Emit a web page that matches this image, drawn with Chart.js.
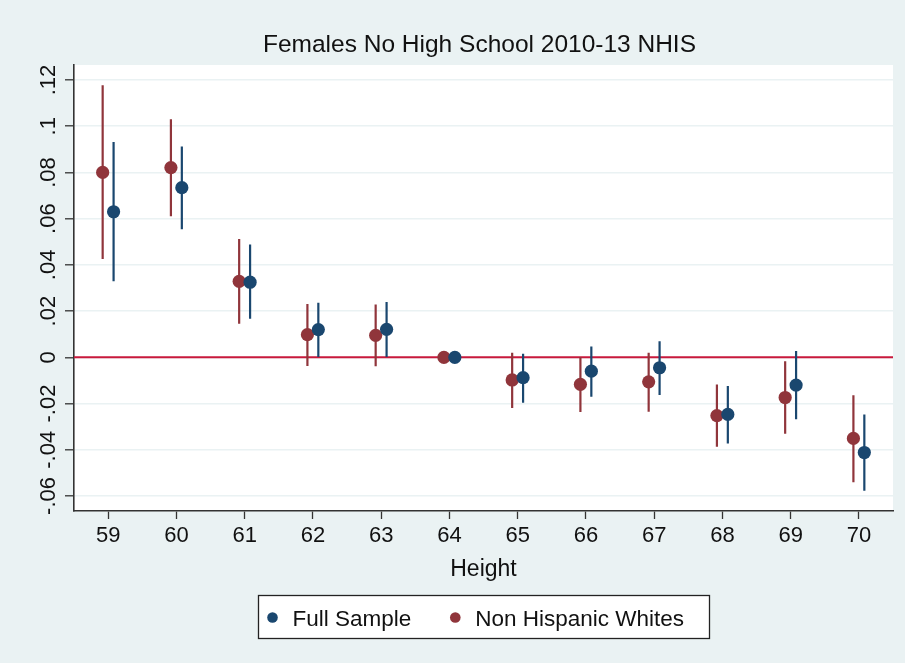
<!DOCTYPE html>
<html>
<head>
<meta charset="utf-8">
<script src="https://cdn.jsdelivr.net/npm/chart.js@4/dist/chart.umd.min.js"></script>
<style>
  html, body { margin: 0; padding: 0; background: #eaf2f3; }
  #wrap { width: 905px; height: 663px; }
</style>
</head>
<body>
<div id="wrap"><canvas id="c" width="905" height="663"></canvas></div>
<script>
// ---- data ----
const chartTitle = "Females No High School 2010-13 NHIS";
const xTitle = "Height";
const heights = [59, 60, 61, 62, 63, 64, 65, 66, 67, 68, 69, 70];
const yTickValues = [-0.06, -0.04, -0.02, 0, 0.02, 0.04, 0.06, 0.08, 0.1, 0.12];
const yTickLabels = ["-.06", "-.04", "-.02", "0", ".02", ".04", ".06", ".08", ".1", ".12"];

const fullLabel = "Full Sample";
const fullEst = [0.0630, 0.0734, 0.0325, 0.0120, 0.0121, 0, -0.0088, -0.0060, -0.0045, -0.0247, -0.0120, -0.0412];
const fullLo  = [0.0329, 0.0554, 0.0167, 0.0001, 0.0001, null, -0.0197, -0.0171, -0.0163, -0.0373, -0.0268, -0.0577];
const fullHi  = [0.0932, 0.0912, 0.0488, 0.0236, 0.0239, null, 0.0016, 0.0047, 0.0070, -0.0124, 0.0027, -0.0247];

const nhwLabel = "Non Hispanic Whites";
const nhwEst = [0.0800, 0.0821, 0.0329, 0.0098, 0.0095, 0, -0.0098, -0.0117, -0.0106, -0.0252, -0.0174, -0.0351];
const nhwLo  = [0.0426, 0.0611, 0.0145, -0.0037, -0.0039, null, -0.0219, -0.0237, -0.0236, -0.0387, -0.0331, -0.0541];
const nhwHi  = [0.1177, 0.1030, 0.0512, 0.0231, 0.0229, null, 0.0020, 0.0001, 0.0020, -0.0118, -0.0017, -0.0164];

const fullOffset = 0.08;
const nhwOffset = -0.08;
const refLineValue = 0;

// ---- styles ----
const NAVY = "#1a476f";
const MAROON = "#90353b";
const REDLINE = "#c8193c";
const BG = "#eaf2f3";
const FONT = "'Liberation Sans', Arial, Helvetica, sans-serif";

function points(est, off) {
  return heights.map((h, i) => ({ x: h + off, y: est[i] }));
}
function ciSegments(lo, hi, off) {
  const out = [];
  heights.forEach((h, i) => {
    if (lo[i] === null || hi[i] === null) return;
    out.push({ x: h + off, y: lo[i] }, { x: h + off, y: hi[i] }, { x: h + off, y: null });
  });
  return out;
}

const bgPlugin = {
  id: "bg",
  beforeDraw(chart) {
    const { ctx, chartArea: a } = chart;
    ctx.save();
    ctx.fillStyle = BG;
    ctx.fillRect(0, 0, chart.width, chart.height);
    ctx.fillStyle = "#ffffff";
    ctx.fillRect(a.left, a.top, a.right - a.left, a.bottom - a.top);
    ctx.restore();
  }
};

const decoPlugin = {
  id: "deco",
  afterDraw(chart) {
    const { ctx, chartArea: a } = chart;
    const yScale = chart.scales.y;
    const cx = (a.left + a.right) / 2;
    ctx.save();
    // title
    ctx.fillStyle = "#111";
    ctx.font = "24.5px " + FONT;
    ctx.textAlign = "center";
    ctx.textBaseline = "middle";
    ctx.fillText(chartTitle, cx - 4, 45);
    // rotated y tick labels
    ctx.font = "22px " + FONT;
    ctx.textBaseline = "alphabetic";
    yTickValues.forEach((v, i) => {
      const py = yScale.getPixelForValue(v);
      ctx.save();
      ctx.translate(a.left - 19, py);
      ctx.rotate(-Math.PI / 2);
      ctx.fillText(yTickLabels[i], 0, 0);
      ctx.restore();
    });
    // legend
    const items = [
      { label: fullLabel, color: NAVY },
      { label: nhwLabel, color: MAROON }
    ];
    ctx.font = "22.5px " + FONT;
    const w0 = ctx.measureText(items[0].label).width;
    const w1 = ctx.measureText(items[1].label).width;
    const boxW = 451, boxH = 43;
    const bx = Math.round(cx - boxW / 2) + 0.5, by = 595.5;
    ctx.fillStyle = "#ffffff";
    ctx.fillRect(bx, by, boxW, boxH);
    ctx.strokeStyle = "#222";
    ctx.lineWidth = 1.3;
    ctx.strokeRect(bx, by, boxW, boxH);
    const cy = by + boxH / 2 + 0.5;
    let x = bx + 14;
    ctx.textAlign = "left";
    ctx.textBaseline = "alphabetic";
    items.forEach((it, k) => {
      ctx.fillStyle = it.color;
      ctx.beginPath();
      ctx.arc(x, cy, 5.3, 0, Math.PI * 2);
      ctx.fill();
      ctx.fillStyle = "#111";
      ctx.fillText(it.label, x + 20, cy + 8);
      x += 20 + (k === 0 ? w0 : w1) + 44;
    });
    ctx.restore();
  }
};

Chart.defaults.font.family = FONT;
Chart.defaults.color = "#111";

new Chart(document.getElementById("c"), {
  type: "scatter",
  data: {
    datasets: [
      {
        label: fullLabel, data: points(fullEst, fullOffset),
        backgroundColor: NAVY, borderColor: NAVY, pointRadius: 6.6, pointBorderWidth: 0,
        pointHoverRadius: 6.6, order: 0
      },
      {
        label: nhwLabel, data: points(nhwEst, nhwOffset),
        backgroundColor: MAROON, borderColor: MAROON, pointRadius: 6.6, pointBorderWidth: 0,
        pointHoverRadius: 6.6, order: 1
      },
      {
        label: fullLabel + " CI", data: ciSegments(fullLo, fullHi, fullOffset),
        showLine: true, spanGaps: false, borderColor: NAVY, borderWidth: 2.2,
        pointRadius: 0, order: 2
      },
      {
        label: nhwLabel + " CI", data: ciSegments(nhwLo, nhwHi, nhwOffset),
        showLine: true, spanGaps: false, borderColor: MAROON, borderWidth: 2.2,
        pointRadius: 0, order: 3
      },
      {
        label: "ref", data: [{ x: heights[0] - 0.5, y: refLineValue }, { x: heights[heights.length - 1] + 0.5, y: refLineValue }],
        showLine: true, borderColor: REDLINE, borderWidth: 2, pointRadius: 0, order: 4
      }
    ]
  },
  options: {
    responsive: false,
    animation: false,
    layout: { padding: { top: 65, right: 12, left: 0, bottom: 77 } },
    plugins: {
      legend: { display: false },
      title: { display: false },
      tooltip: { enabled: false }
    },
    scales: {
      x: {
        type: "linear",
        min: heights[0] - 0.5,
        max: heights[heights.length - 1] + 0.5,
        afterBuildTicks(scale) { scale.ticks = heights.map(v => ({ value: v })); },
        afterFit(scale) { scale.height = 75; },
        ticks: {
          font: { size: 22 }, color: "#111", padding: 4, maxRotation: 0, autoSkip: false,
          callback: v => String(v)
        },
        grid: { drawOnChartArea: false, drawTicks: true, tickLength: 8, tickColor: "#333", tickWidth: 1.3 },
        border: { display: true, color: "#333", width: 1.6 },
        title: { display: true, text: xTitle, font: { size: 23 }, color: "#111", padding: { top: 0, bottom: 3 } }
      },
      y: {
        type: "linear",
        min: -0.0665,
        max: 0.1265,
        afterBuildTicks(scale) { scale.ticks = yTickValues.map(v => ({ value: v })); },
        afterFit(scale) { scale.width = 74; },
        ticks: { color: "rgba(0,0,0,0)", font: { size: 22 }, callback: (v, i) => yTickLabels[i] },
        grid: { color: BG, lineWidth: 1.6, drawTicks: true, tickLength: 9, tickColor: "#333", tickWidth: 1.3 },
        border: { display: true, color: "#333", width: 1.6 }
      }
    }
  },
  plugins: [bgPlugin, decoPlugin]
});
</script>
</body>
</html>
